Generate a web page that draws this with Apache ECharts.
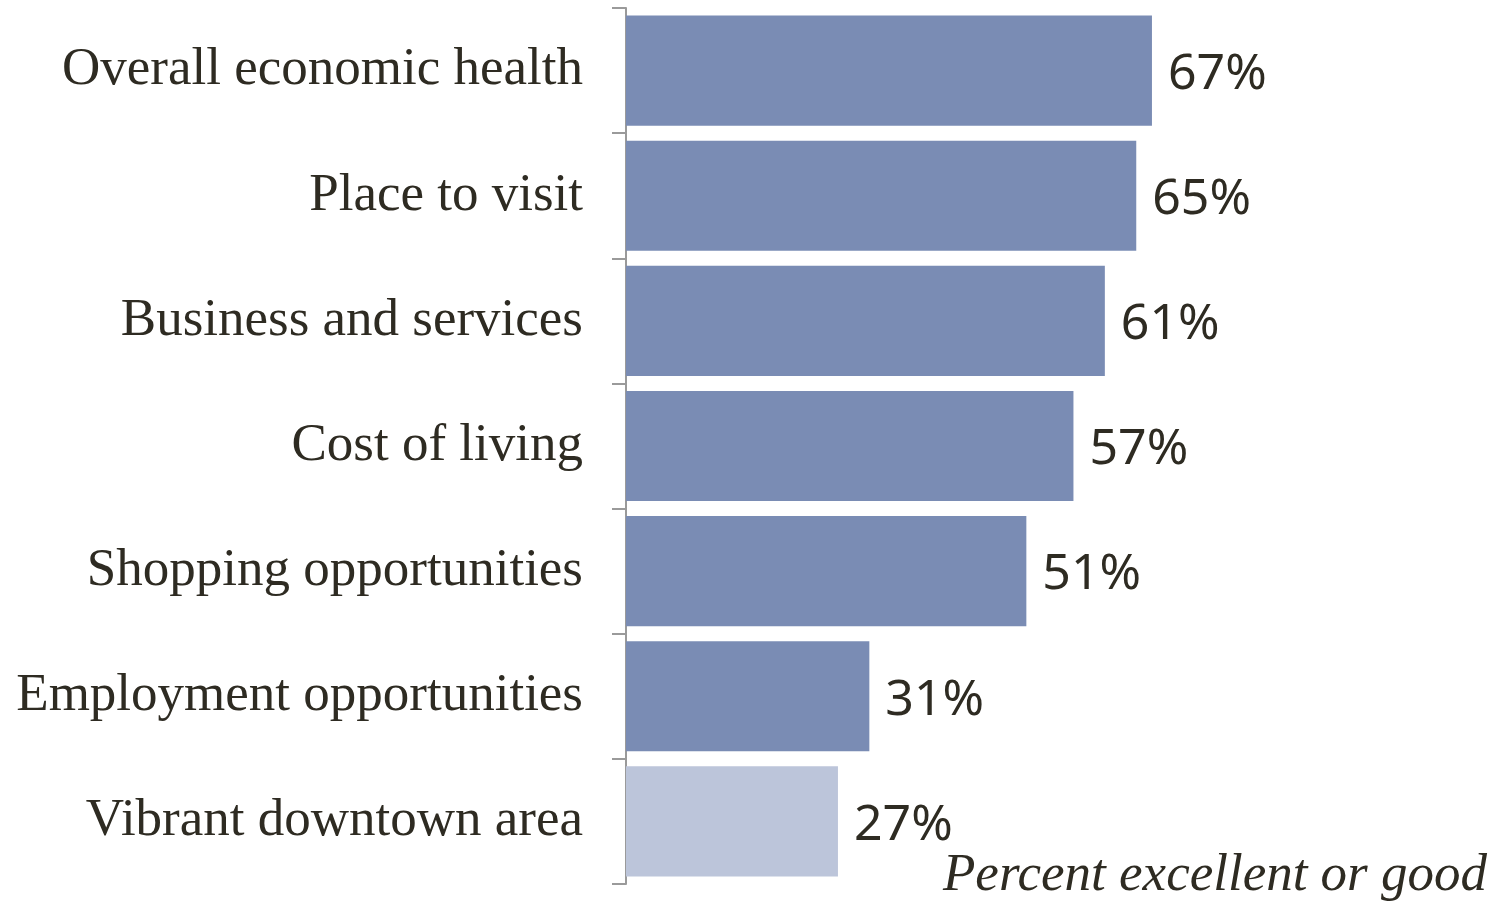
<!DOCTYPE html>
<html>
<head>
<meta charset="utf-8">
<script src="https://cdn.jsdelivr.net/npm/echarts@6/dist/echarts.min.js"></script>
<style>
  html, body { margin: 0; padding: 0; background: #fff; }
  #chart { width: 1506px; height: 904px; }
</style>
</head>
<body>
<div id="chart"></div>
<script>
const categories = [
    'Overall economic health',
    'Place to visit',
    'Business and services',
    'Cost of living',
    'Shopping opportunities',
    'Employment opportunities',
    'Vibrant downtown area'
];
const values = [67, 65, 61, 57, 51, 31, 27];
const highlighted = 'Vibrant downtown area';

const textColor = '#2e2b22';

let myChart = echarts.init(document.getElementById('chart'));
myChart.setOption({
    animation: false,
    grid: {
        left: 626,
        right: 95,
        top: 8,
        bottom: 20
    },
    title: {
        text: 'Percent excellent or good',
        right: 14,
        bottom: -4,
        textStyle: {
            fontFamily: 'Liberation Serif',
            fontStyle: 'italic',
            fontWeight: 'normal',
            fontSize: 53,
            color: textColor
        }
    },
    xAxis: {
        type: 'value',
        min: 0,
        max: 100,
        show: false
    },
    yAxis: {
        type: 'category',
        data: categories,
        inverse: true,
        axisLine: { show: true, lineStyle: { color: '#9a9a9a', width: 2 } },
        axisTick: { show: true, length: 14, lineStyle: { color: '#9a9a9a', width: 2 } },
        axisLabel: {
            margin: 43,
            fontFamily: 'Liberation Serif',
            fontSize: 53,
            color: textColor
        }
    },
    series: [{
        type: 'bar',
        data: values,
        barCategoryGap: '12%',
        itemStyle: {
            color: (p) => p.name === highlighted ? '#bcc5da' : '#7a8cb4'
        },
        label: {
            show: true,
            position: 'right',
            distance: 16,
            offset: [0, 4],
            formatter: '{c}%',
            fontFamily: 'Noto Sans',
            fontSize: 50,
            color: textColor
        }
    }]
});
</script>
</body>
</html>
